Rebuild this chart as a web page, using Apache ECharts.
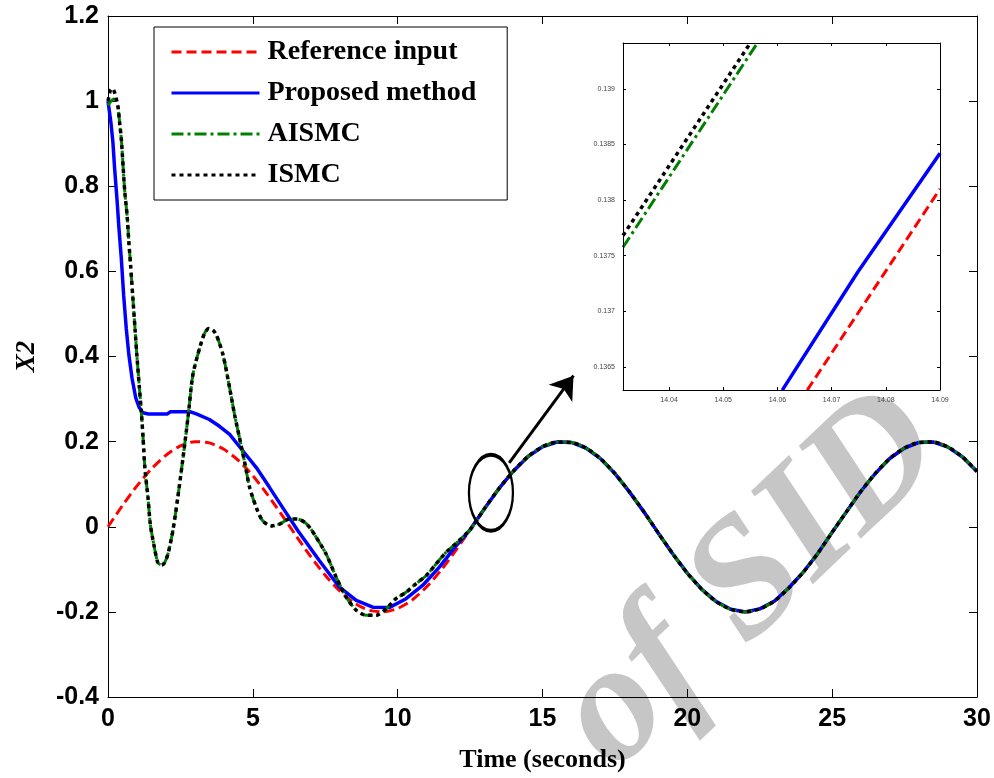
<!DOCTYPE html>
<html>
<head>
    <meta charset="utf-8" />
    <title>X2 response</title>
    <script src="https://cdn.jsdelivr.net/npm/echarts@6/dist/echarts.min.js"></script>
    <style>
        html, body { margin: 0; padding: 0; background: #fff; }
        #main { width: 994px; height: 778px; }
    </style>
</head>
<body>
<div id="main"></div>
<script type="text/javascript">
    // names in legend order
    var seriesNames = ['Reference input', 'Proposed method', 'AISMC', 'ISMC'];

    // reference input, read every 0.5 s
    var timeRef = [0, 0.5, 1, 1.5, 2, 2.5, 3, 3.5, 4, 4.5, 5, 5.5, 6, 6.5, 7, 7.5, 8, 8.5, 9, 9.5,
        10, 10.5, 11, 11.5, 12, 12.5, 13, 13.5, 14, 14.5, 15, 15.5, 16, 16.5, 17, 17.5, 18, 18.5, 19, 19.5,
        20, 20.5, 21, 21.5, 22, 22.5, 23, 23.5, 24, 24.5, 25, 25.5, 26, 26.5, 27, 27.5, 28, 28.5, 29, 29.5, 30];
    var referenceInput = [0, 0.050, 0.096, 0.136, 0.168, 0.190, 0.200, 0.197, 0.182, 0.156, 0.120, 0.076, 0.028,
        -0.022, -0.070, -0.114, -0.151, -0.179, -0.196, -0.200, -0.192, -0.172, -0.141, -0.102, -0.056,
        -0.007, 0.043, 0.090, 0.131, 0.165, 0.188, 0.199, 0.198, 0.185, 0.160, 0.125, 0.082,
        0.035, -0.015, -0.064, -0.109, -0.147, -0.176, -0.194, -0.200, -0.193, -0.175, -0.144, -0.107,
        -0.063, -0.013, 0.036, 0.084, 0.126, 0.161, 0.185, 0.198, 0.199, 0.187, 0.164, 0.130];

    // the three controllers, before they join the reference (t <= 12)
    var proposedEarly = [[0, 1.0], [0.03, 0.985], [0.1, 0.95], [0.17, 0.903], [0.23, 0.84], [0.31, 0.77],
        [0.38, 0.70], [0.46, 0.63], [0.54, 0.544], [0.63, 0.466], [0.72, 0.404], [0.83, 0.349], [0.96, 0.302],
        [1.08, 0.28], [1.2, 0.268], [1.4, 0.265], [2.05, 0.265], [2.15, 0.27], [2.85, 0.27], [3.05, 0.265],
        [3.5, 0.252], [3.85, 0.236], [4.2, 0.217], [4.66, 0.178], [5.12, 0.139], [5.58, 0.092], [6.03, 0.045],
        [6.55, -0.009], [7.3, -0.080], [7.99, -0.142], [8.57, -0.173], [9.14, -0.189], [9.71, -0.190],
        [10.29, -0.169], [10.86, -0.138], [11.44, -0.095], [12.0, -0.046]];
    var aismcStart = [[0, 0.99], [0.1, 1.0], [0.2, 1.005], [0.27, 1.0]];
    var ismcStart = [[0, 1.0], [0.08, 1.025], [0.15, 1.03], [0.23, 1.02]];
    var smcEarly = [[0.34, 0.989], [0.40, 0.95], [0.46, 0.911], [0.52, 0.848], [0.58, 0.786], [0.66, 0.731],
        [0.72, 0.669], [0.78, 0.614], [0.86, 0.536], [0.94, 0.458], [1.0, 0.40], [1.08, 0.33], [1.15, 0.27],
        [1.21, 0.21], [1.27, 0.14], [1.33, 0.10], [1.38, 0.069], [1.46, 0.006], [1.58, -0.041], [1.72, -0.084],
        [1.85, -0.09], [1.95, -0.085], [2.07, -0.064], [2.24, -0.009], [2.41, 0.069], [2.59, 0.162],
        [2.76, 0.256], [2.93, 0.357], [3.16, 0.419], [3.33, 0.454], [3.48, 0.466], [3.62, 0.462],
        [3.74, 0.451], [3.97, 0.404], [4.20, 0.326], [4.37, 0.263], [4.54, 0.209], [4.71, 0.154],
        [4.89, 0.092], [5.12, 0.045], [5.34, 0.014], [5.63, 0.002], [5.92, 0.006], [6.26, 0.018],
        [6.55, 0.018], [6.8, 0.01], [7.0, -0.005], [7.19, -0.025], [7.53, -0.064], [7.88, -0.119],
        [8.22, -0.165], [8.57, -0.196], [8.91, -0.208], [9.26, -0.208], [9.6, -0.193], [9.94, -0.169],
        [10.29, -0.154], [10.63, -0.134], [10.98, -0.115], [11.32, -0.088], [11.67, -0.06], [12.0, -0.04]];

    // zoomed box around t = 14.03 .. 14.09
    var insetReference = [[14.0655, 0.13629], [14.09, 0.13810]];
    var insetProposed = [[14.0609, 0.13629], [14.0748, 0.13735], [14.09, 0.13842]];
    var insetAismc = [[14.0315, 0.137575], [14.0563, 0.139412]];
    var insetIsmc = [[14.0315, 0.13768], [14.0550, 0.139412]];
    var insetXTicks = [14.04, 14.05, 14.06, 14.07, 14.08, 14.09];
    var insetYTicks = [0.1365, 0.137, 0.1375, 0.138, 0.1385, 0.139];

    // ellipse and arrow pointing at the zoomed spot
    var markCenter = [13.22, 0.08];
    var arrowFromTo = [[13.85, 0.15], [16.07, 0.355]];

    var serif = "'Liberation Serif', 'Times New Roman', serif";
    var sans = "'Liberation Sans', Arial, sans-serif";

    // build [t, y] lists
    var refPairs = [];
    var tailPairs = [];
    for (var i = 0; i < timeRef.length; i++) {
        refPairs.push([timeRef[i], referenceInput[i]]);
        if (timeRef[i] >= 12.5) tailPairs.push([timeRef[i], referenceInput[i]]);
    }
    var proposedPairs = proposedEarly.concat(tailPairs);
    var aismcPairs = aismcStart.concat(smcEarly, tailPairs);
    var ismcPairs = ismcStart.concat(smcEarly, tailPairs);

    var colors = ['#ff0000', '#0000ff', '#008000', '#000000'];
    var dashes = [[10, 5], 'solid', [12, 4, 3, 4], [4, 4]];
    var widths = [3, 3.5, 3, 3.5];

    function mainAxisCommon(extra) {
        var base = {
            type: 'value',
            axisLine: { show: true, onZero: false, lineStyle: { color: '#000', width: 1 } },
            axisTick: { show: true, inside: true, length: 8, lineStyle: { color: '#000' } },
            splitLine: { show: false }
        };
        return Object.assign(base, extra);
    }
    function insetAxisCommon(extra) {
        var base = {
            type: 'value',
            gridIndex: 1,
            z: 20,
            axisLine: { show: true, onZero: false, lineStyle: { color: '#000', width: 1 } },
            splitLine: { show: false }
        };
        return Object.assign(base, extra);
    }

    var myChart = echarts.init(document.getElementById('main'));

    var series = [];
    var mainData = [refPairs, proposedPairs, aismcPairs, ismcPairs];
    var insetData = [insetReference, insetProposed, insetAismc, insetIsmc];
    for (var k = 0; k < 4; k++) {
        series.push({
            name: seriesNames[k], type: 'line', xAxisIndex: 0, yAxisIndex: 0,
            data: mainData[k], symbol: 'none', smooth: k === 1 ? false : 0.25,
            lineStyle: { color: colors[k], width: widths[k], type: dashes[k] },
            itemStyle: { color: colors[k] }, z: 2 + k
        });
    }
    for (var k2 = 0; k2 < 4; k2++) {
        series.push({
            name: seriesNames[k2], type: 'line', xAxisIndex: 2, yAxisIndex: 2,
            data: insetData[k2], symbol: 'none', clip: true,
            lineStyle: { color: colors[k2], width: widths[k2], type: dashes[k2] },
            itemStyle: { color: colors[k2] }, z: 12 + k2
        });
    }
    series.push({
        name: 'mark', type: 'scatter', xAxisIndex: 0, yAxisIndex: 0, silent: true,
        data: [markCenter], symbol: 'circle', symbolSize: [44, 76],
        itemStyle: { color: 'rgba(0,0,0,0)', borderColor: '#000', borderWidth: 3, opacity: 1 }, z: 8
    });
    series.push({
        name: 'arrow', type: 'lines', coordinateSystem: 'cartesian2d', xAxisIndex: 0, yAxisIndex: 0,
        silent: true, symbol: ['none', 'arrow'], symbolSize: 22,
        lineStyle: { color: '#000', width: 3, opacity: 1, curveness: 0 },
        data: [{ coords: arrowFromTo }], z: 8
    });

    myChart.setOption({
        animation: false,
        backgroundColor: '#fff',
        graphic: [{
            type: 'text', x: 752, y: 582, rotation: 0.76, z: -10, silent: true,
            style: {
                text: 'of SID', font: "italic bold 168px 'Liberation Serif', serif",
                fill: '#c6c6c6', align: 'center', verticalAlign: 'middle',
                textAlign: 'center', textVerticalAlign: 'middle'
            }
        }],
        legend: {
            data: seriesNames,
            orient: 'vertical',
            left: 154, top: 27,
            padding: [11, 31, 11, 16],
            itemWidth: 88, itemHeight: 28, itemGap: 13,
            backgroundColor: '#fff',
            borderColor: '#000', borderWidth: 1,
            selectedMode: false,
            itemStyle: { color: 'rgba(0,0,0,0)', borderWidth: 0, opacity: 0 },
            lineStyle: { width: 3 },
            textStyle: {
                fontFamily: serif, fontWeight: 'bold', fontSize: 28, color: '#000',
                padding: [0, 0, 0, 3]
            }
        },
        grid: [
            { left: 108, top: 16, right: 17, bottom: 78, containLabel: false },
            { left: 623, top: 43, width: 317, height: 347, show: true, backgroundColor: '#fff', borderWidth: 0, z: 10 }
        ],
        xAxis: [
            mainAxisCommon({
                gridIndex: 0, position: 'bottom', min: 0, max: 30, interval: 5,
                axisLabel: { color: '#000', fontFamily: sans, fontWeight: 'bold', fontSize: 25, margin: 10 },
                name: 'Time (seconds)', nameLocation: 'middle', nameGap: 50,
                nameTextStyle: { fontFamily: serif, fontWeight: 'bold', fontSize: 26, color: '#000' }
            }),
            mainAxisCommon({
                gridIndex: 0, position: 'top', min: 0, max: 30, interval: 5,
                axisLabel: { show: false }
            }),
            insetAxisCommon({
                position: 'bottom', min: 14.0315, max: 14.09,
                axisTick: { show: true, inside: true, length: 3, customValues: insetXTicks, lineStyle: { color: '#000' } },
                axisLabel: { customValues: insetXTicks, color: '#444', fontFamily: sans, fontSize: 7, margin: 7 }
            }),
            insetAxisCommon({
                position: 'top', min: 14.0315, max: 14.09,
                axisTick: { show: true, inside: true, length: 3, customValues: insetXTicks, lineStyle: { color: '#000' } },
                axisLabel: { show: false }
            })
        ],
        yAxis: [
            mainAxisCommon({
                gridIndex: 0, position: 'left', min: -0.4, max: 1.2, interval: 0.2,
                axisLabel: { color: '#000', fontFamily: sans, fontWeight: 'bold', fontSize: 25, margin: 9 },
                name: 'X2', nameLocation: 'middle', nameGap: 67,
                nameTextStyle: { fontFamily: serif, fontWeight: 'bold', fontStyle: 'italic', fontSize: 27, color: '#000' }
            }),
            mainAxisCommon({
                gridIndex: 0, position: 'right', min: -0.4, max: 1.2, interval: 0.2,
                axisLabel: { show: false }
            }),
            insetAxisCommon({
                position: 'left', min: 0.136291, max: 0.139412,
                axisTick: { show: true, inside: true, length: 3, customValues: insetYTicks, lineStyle: { color: '#000' } },
                axisLabel: { customValues: insetYTicks, color: '#444', fontFamily: sans, fontSize: 7, margin: 8 }
            }),
            insetAxisCommon({
                position: 'right', min: 0.136291, max: 0.139412,
                axisTick: { show: true, inside: true, length: 3, customValues: insetYTicks, lineStyle: { color: '#000' } },
                axisLabel: { show: false }
            })
        ],
        series: series
    });
</script>
</body>
</html>
